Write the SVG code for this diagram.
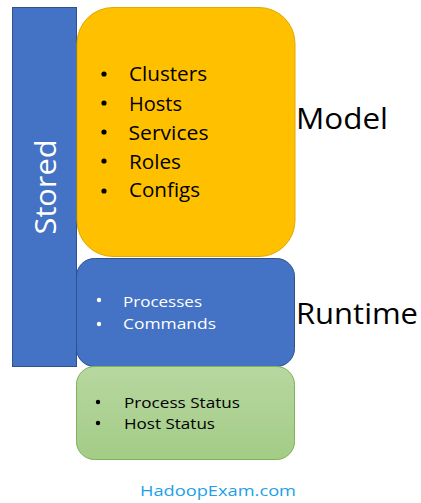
<svg xmlns="http://www.w3.org/2000/svg" width="421" height="503" viewBox="0 0 421 503">
<defs>
<linearGradient id="gg" x1="0" y1="0" x2="0" y2="1">
<stop offset="0" stop-color="#B7D7A0"/>
<stop offset="1" stop-color="#A3CC86"/>
</linearGradient>
<style>
text{font-family:"Open Sans","Liberation Sans",Arial,sans-serif}
.blue{fill:#4472C4;stroke:#2F528F;stroke-width:1}
.big{font-size:20px;fill:#000}
.mid{font-size:15px}
.lab{font-size:30px;fill:#000}
</style>
</defs>
<rect width="421" height="503" fill="#fff"/>
<g id="stored">
<rect class="blue" x="12.5" y="7.5" width="64" height="359"/>
<text transform="translate(56,187) rotate(-90)" text-anchor="middle" font-size="29" fill="#fff" textLength="95" lengthAdjust="spacingAndGlyphs">Stored</text>
</g>
<g id="model">
<rect x="77" y="7.5" width="218" height="249" rx="36" fill="#FFC000" stroke="#E0A800"/>
<g class="big">
<circle cx="104" cy="74" r="2.6"/><text x="129" y="81" textLength="78" lengthAdjust="spacingAndGlyphs">Clusters</text>
<circle cx="104" cy="103" r="2.6"/><text x="129" y="110.5" textLength="53" lengthAdjust="spacingAndGlyphs">Hosts</text>
<circle cx="104" cy="132" r="2.6"/><text x="128.5" y="140" textLength="80" lengthAdjust="spacingAndGlyphs">Services</text>
<circle cx="104" cy="161" r="2.6"/><text x="129" y="169" textLength="52" lengthAdjust="spacingAndGlyphs">Roles</text>
<circle cx="104" cy="191" r="2.6"/><text x="129" y="197" textLength="71" lengthAdjust="spacingAndGlyphs">Configs</text>
</g>
</g>
<g id="runtime">
<rect class="blue" x="76.5" y="258.5" width="218" height="108" rx="18"/>
<g fill="#fff" class="mid">
<circle cx="99" cy="300" r="2.2"/><text x="123" y="306.5" textLength="79" lengthAdjust="spacingAndGlyphs">Processes</text>
<circle cx="99" cy="324" r="2.2"/><text x="123" y="329" textLength="93" lengthAdjust="spacingAndGlyphs">Commands</text>
</g>
</g>
<g id="status">
<rect x="76.5" y="366.5" width="218" height="93" rx="18" fill="url(#gg)" stroke="#7DB356"/>
<g fill="#000" class="mid">
<circle cx="98" cy="402" r="2.2"/><text x="124" y="408" textLength="116" lengthAdjust="spacingAndGlyphs">Process Status</text>
<circle cx="98" cy="423" r="2.2"/><text x="124" y="428.5" textLength="91" lengthAdjust="spacingAndGlyphs">Host Status</text>
</g>
</g>
<g id="labels">
<text class="lab" x="296" y="128.5" textLength="92" lengthAdjust="spacingAndGlyphs">Model</text>
<text class="lab" x="296" y="323.5" textLength="122" lengthAdjust="spacingAndGlyphs">Runtime</text>
<text x="140" y="496" font-size="14.5" fill="#1E9FE8" textLength="156" lengthAdjust="spacingAndGlyphs">HadoopExam.com</text>
</g>
<g id="connectors"/>
</svg>
